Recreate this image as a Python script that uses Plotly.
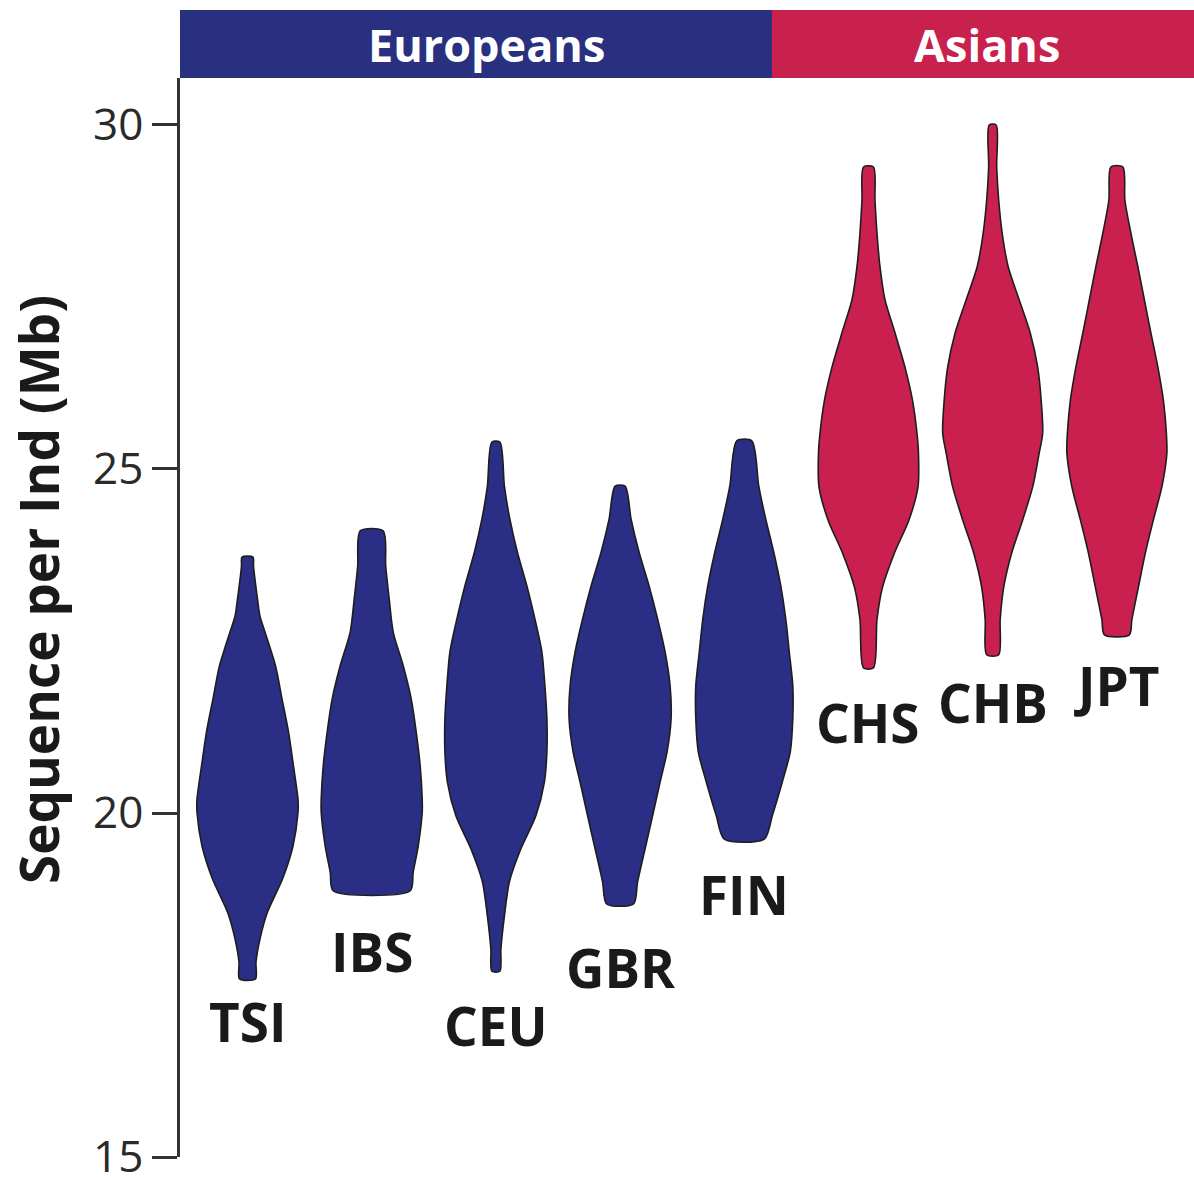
import plotly.graph_objects as go

# ---------------- data ----------------
populations = ["TSI", "IBS", "CEU", "GBR", "FIN", "CHS", "CHB", "JPT"]
groups = ["Europeans", "Europeans", "Europeans", "Europeans", "Europeans", "Asians", "Asians", "Asians"]

# violin outlines: sequence per individual (Mb) levels and relative density (0-100)
TSI_y = [23.72, 23.59, 23.11, 22.86, 22.63, 22.14, 21.66, 21.18, 20.68, 20.20, 20.01, 19.52, 19.04, 18.56, 18.17, 17.83, 17.59]
TSI_w = [11, 12, 20, 25, 35, 56, 69, 82, 92, 101, 101, 91, 70, 40, 25, 17, 16]

IBS_y = [24.10, 23.59, 23.11, 22.63, 22.14, 21.66, 21.18, 20.68, 20.20, 20.01, 19.52, 19.14, 18.87]
IBS_w = [23, 28, 35, 43, 63, 79, 89, 97, 101, 101, 93, 83, 77]

CEU_y = [25.39, 24.75, 24.27, 23.79, 23.30, 22.82, 22.34, 21.85, 21.37, 20.89, 20.45, 19.96, 19.48, 19.00, 18.50, 18.02, 17.70]
CEU_w = [8, 17, 28, 43, 62, 78, 92, 98, 102, 102, 97, 80, 50, 27, 17, 10, 8]

GBR_y = [24.75, 24.27, 23.79, 23.30, 22.82, 22.34, 21.85, 21.37, 20.89, 20.45, 19.96, 19.48, 19.00, 18.68]
GBR_w = [10, 22, 38, 58, 75, 90, 100, 102, 94, 80, 65, 50, 35, 27]

FIN_y = [25.41, 24.75, 24.27, 23.79, 23.30, 22.82, 22.34, 21.85, 21.37, 20.89, 20.45, 19.96, 19.62]
FIN_w = [15, 29, 43, 59, 73, 83, 90, 97, 97, 92, 76, 56, 40]

CHS_y = [29.39, 28.91, 28.43, 27.94, 27.46, 26.98, 26.48, 26.00, 25.52, 25.23, 24.74, 24.26, 23.78, 23.28, 22.81, 22.11]
CHS_w = [10, 13, 17, 23, 33, 53, 73, 88, 97, 100, 99, 81, 52, 28, 17, 10]

CHB_y = [30.00, 29.39, 28.91, 28.43, 27.94, 27.46, 26.98, 26.48, 26.00, 25.52, 25.23, 24.74, 24.26, 23.78, 23.28, 22.81, 22.30]
CHB_w = [7, 8, 12, 19, 31, 53, 75, 90, 97, 100, 93, 80, 60, 38, 22, 15, 12]

JPT_y = [29.39, 28.91, 28.43, 27.94, 27.46, 26.98, 26.48, 26.00, 25.52, 25.23, 24.74, 24.26, 23.78, 23.28, 22.81, 22.59]
JPT_w = [12, 16, 28, 42, 55, 68, 82, 93, 99, 100, 90, 73, 57, 43, 30, 25]

# label anchor heights (Mb)
label_y = [16.97, 17.99, 16.91, 17.76, 18.82, 21.32, 21.60, 21.85]

y_ticks = [15, 20, 25, 30]
group_names = ["Europeans", "Asians"]
group_label_x = [1.928, 5.954]

profiles = {
    "TSI": (TSI_y, TSI_w), "IBS": (IBS_y, IBS_w), "CEU": (CEU_y, CEU_w),
    "GBR": (GBR_y, GBR_w), "FIN": (FIN_y, FIN_w), "CHS": (CHS_y, CHS_w),
    "CHB": (CHB_y, CHB_w), "JPT": (JPT_y, JPT_w),
}

# ---------------- style ----------------
BLUE = "#2A2E84"
RED = "#C9204F"
BANNER_BLUE = "#29307F"
BANNER_RED = "#C8214D"
OUTLINE = "#1E1E1E"
TEXT = "#1A1A1A"
FONT = "Open Sans"
W_SCALE = 0.5 / 124.2  # density unit -> x units (half width)
X_RANGE = [-0.5435, 7.621]
Y_RANGE = [15, 30.683]
GROUP_SPLIT = 4.223

colors = {"Europeans": BLUE, "Asians": RED}

fig = go.Figure()

for i, pop in enumerate(populations):
    ys, ws = profiles[pop]
    right_x = [i + w * W_SCALE for w in ws]
    left_x = [i - w * W_SCALE for w in ws]
    xs = right_x + left_x[::-1] + [right_x[0]]
    yy = list(ys) + list(ys[::-1]) + [ys[0]]
    fig.add_trace(go.Scatter(
        x=xs, y=yy, mode="lines", fill="toself",
        fillcolor=colors[groups[i]],
        line=dict(color=OUTLINE, width=1.6, shape="spline", smoothing=0.75),
        hoverinfo="skip", showlegend=False, name=pop,
    ))
    fig.add_annotation(
        x=i, y=label_y[i], xref="x", yref="y", text=pop, showarrow=False,
        xanchor="center", yanchor="middle",
        font=dict(family=FONT, size=53, color=TEXT, weight=700),
    )

# group banner
fig.add_shape(type="rect", xref="x", yref="paper", x0=X_RANGE[0] - 0.02, x1=GROUP_SPLIT,
              y0=1.0, y1=1.063, fillcolor=BANNER_BLUE, line=dict(width=0), layer="above")
fig.add_shape(type="rect", xref="x", yref="paper", x0=GROUP_SPLIT, x1=X_RANGE[1],
              y0=1.0, y1=1.063, fillcolor=BANNER_RED, line=dict(width=0), layer="above")
for gx, gname in zip(group_label_x, group_names):
    fig.add_annotation(x=gx, y=1.0315, xref="x", yref="paper",
                       text=gname, showarrow=False, xanchor="center", yanchor="middle",
                       font=dict(family=FONT, size=45, color="white", weight=700))

# y axis title
fig.add_annotation(x=-0.139, y=0.5255, xref="paper", yref="paper",
                   text="Sequence per Ind (Mb)", showarrow=False, textangle=-90,
                   xanchor="center", yanchor="middle",
                   font=dict(family=FONT, size=53, color=TEXT, weight=700))

fig.update_layout(
    width=1194, height=1177,
    margin=dict(l=180, r=0, t=78, b=20, autoexpand=False),
    paper_bgcolor="white", plot_bgcolor="white",
    showlegend=False,
    xaxis=dict(range=X_RANGE, showgrid=False, zeroline=False, showticklabels=False,
               ticks="", showline=False, fixedrange=True, automargin=False),
    yaxis=dict(range=Y_RANGE, showgrid=False, zeroline=False,
               tickvals=y_ticks, ticktext=[str(v) for v in y_ticks],
               ticks="outside", ticklen=25, tickwidth=2.5, tickcolor="#333333",
               showline=True, linewidth=2.5, linecolor="#333333",
               tickfont=dict(family=FONT, size=44, color="#2A2A2A"),
               ticklabelstandoff=0, ticklabeloverflow="allow", automargin=False,
               fixedrange=True),
)

fig.write_html("out.html", config={"displayModeBar": False},
               post_script="document.body.style.margin='0';document.body.style.overflow='hidden';")
